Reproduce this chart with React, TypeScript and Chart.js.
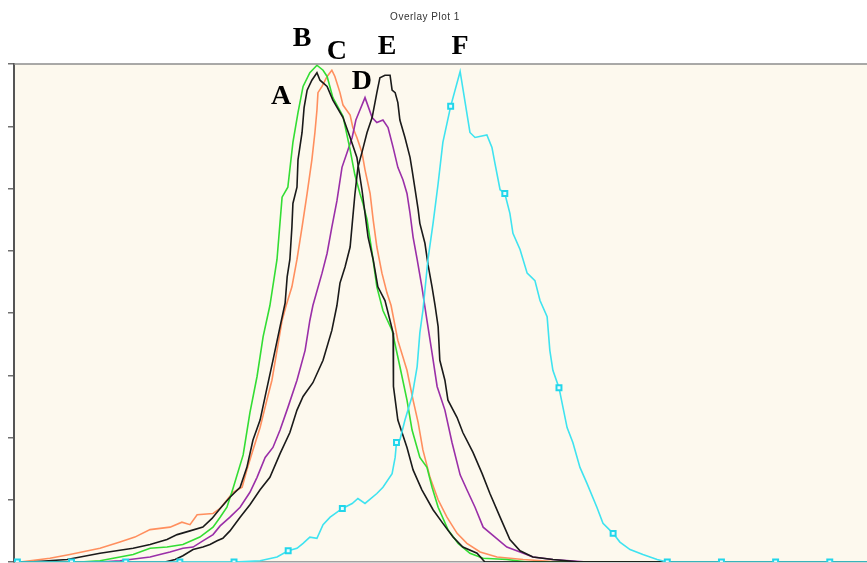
import React, { useEffect, useRef } from "react";
import { Chart, registerables } from "chart.js";

Chart.register(...registerables);

// Histogram channels (x) and counts (y)
const A_ch = [0, 4.7, 15.7, 25.4, 35.2, 40.2, 45.2, 48.2, 52.0, 55.8, 58.5, 60.9, 63.8, 66.8, 68.8, 70.6, 72.7, 74.2, 76.5, 78.6, 80.1, 80.7, 81.5, 82.1, 82.4, 83.6, 83.9, 85.1, 85.7, 86.6, 88.0, 89.5, 90.4, 92.5, 94.2, 97.2, 99.3, 101.3, 102.8, 103.7, 104.6, 106.1, 107.5, 109.6, 112.0, 112.1, 113.4, 116.1, 117.9, 120.5, 123.8, 126.7, 129.7, 132.6, 136.8, 139.1, 252];
const A_val = [0, 0, 2, 7, 11, 14, 18, 22, 25, 28, 35, 43, 52, 60, 76, 98, 114, 133, 162, 189, 208, 229, 243, 269, 288, 301, 323, 345, 365, 379, 387, 393, 387, 382, 371, 357, 341, 325, 299, 280, 261, 243, 221, 210, 184, 141, 114, 92, 74, 58, 42, 31, 20, 12, 7, 0, 0];

const B_ch = [0, 19.5, 25.4, 35.2, 40.2, 45.2, 49.9, 54.9, 58.8, 60.9, 62.9, 64.7, 67.7, 69.7, 71.8, 73.6, 75.6, 77.7, 79.2, 80.9, 82.4, 83.9, 85.4, 87.4, 89.5, 91.3, 92.5, 94.2, 97.2, 99.3, 100.7, 102.2, 103.1, 104.3, 105.8, 107.2, 109.0, 111.7, 114.0, 116.1, 117.6, 119.9, 122.0, 123.5, 125.3, 128.2, 131.2, 134.7, 138.6, 145.6, 151.6, 252];
const B_val = [0, 0, 1, 6, 11, 12, 14, 20, 28, 36, 44, 59, 86, 120, 149, 181, 206, 243, 293, 301, 337, 361, 382, 393, 399, 395, 390, 373, 358, 331, 311, 296, 288, 275, 248, 221, 202, 186, 157, 130, 106, 84, 76, 60, 44, 26, 15, 7, 3, 2, 0, 0];

const C_ch = [0, 1.8, 10.6, 16.5, 25.4, 31.3, 35.7, 40.2, 46.1, 49.6, 52.0, 54.1, 58.8, 60.9, 64.7, 67.4, 68.8, 70.6, 72.7, 74.7, 76.2, 77.7, 79.2, 80.4, 82.1, 83.6, 85.1, 86.6, 88.0, 88.9, 89.5, 89.8, 91.0, 92.5, 93.9, 94.8, 96.3, 97.2, 99.3, 100.1, 101.3, 102.8, 103.7, 105.2, 106.1, 107.2, 108.7, 110.2, 111.4, 113.4, 116.1, 117.9, 119.4, 120.8, 122.9, 125.3, 127.9, 130.9, 133.8, 137.7, 142.7, 150.4, 161.3, 252];
const C_val = [0, 0, 3, 6, 11, 16, 20, 26, 28, 32, 30, 38, 39, 43, 56, 60, 74, 90, 108, 130, 146, 170, 194, 206, 221, 243, 269, 296, 323, 345, 363, 377, 382, 390, 395, 390, 377, 367, 359, 349, 341, 329, 315, 296, 275, 253, 232, 216, 206, 178, 154, 130, 112, 90, 68, 50, 36, 23, 15, 8, 4, 2, 0, 0];

const D_ch = [0, 25.4, 31.3, 37.2, 40.2, 43.1, 46.1, 49.9, 52.9, 55.8, 58.8, 60.9, 63.8, 66.8, 69.7, 71.8, 74.2, 76.5, 78.6, 80.9, 83.6, 86.0, 87.4, 88.3, 91.0, 92.5, 93.9, 95.4, 96.9, 98.4, 99.9, 101.0, 102.2, 103.7, 105.8, 107.2, 109.0, 110.5, 112.0, 113.4, 114.9, 116.1, 117.0, 117.9, 119.1, 120.5, 122.0, 123.5, 125.0, 127.3, 129.4, 131.8, 133.8, 136.2, 138.6, 142.1, 145.6, 149.5, 153.3, 159.2, 169.3, 252];
const D_val = [0, 0, 1, 3, 4, 6, 8, 11, 12, 17, 22, 29, 36, 44, 56, 68, 84, 92, 106, 124, 146, 170, 194, 206, 232, 248, 269, 290, 317, 329, 341, 355, 363, 373, 357, 353, 355, 349, 333, 317, 307, 296, 280, 261, 243, 221, 194, 168, 141, 122, 96, 70, 58, 44, 28, 20, 12, 8, 4, 2, 0, 0];

const E_ch = [0, 44.6, 47.6, 49.9, 52.9, 55.8, 57.9, 60.0, 61.7, 63.8, 66.8, 69.7, 72.7, 75.6, 78.6, 81.5, 83.6, 85.4, 88.3, 91.3, 93.9, 95.4, 96.3, 97.8, 99.3, 99.9, 100.7, 101.6, 102.8, 104.3, 105.8, 107.2, 108.1, 109.6, 111.1, 111.7, 112.6, 113.4, 114.0, 115.5, 117.0, 117.6, 118.5, 119.4, 119.9, 121.4, 122.3, 123.5, 124.4, 125.3, 125.8, 127.3, 128.2, 130.9, 132.6, 135.6, 138.3, 140.6, 143.6, 146.5, 149.5, 153.3, 159.2, 167.2, 252];
const E_val = [0, 0, 2, 5, 10, 12, 14, 17, 19, 25, 36, 46, 58, 68, 87, 104, 122, 133, 144, 162, 186, 206, 224, 237, 253, 271, 295, 317, 329, 345, 357, 377, 389, 391, 391, 379, 377, 369, 355, 341, 325, 315, 299, 283, 272, 256, 239, 221, 206, 189, 162, 146, 130, 116, 104, 88, 71, 55, 36, 18, 9, 4, 2, 0, 0];

const F_ch = [0, 1, 17, 33, 49, 65, 72.7, 77.7, 81, 83.6, 85.4, 87.4, 89.5, 91.3, 93.4, 97, 99.9, 101.6, 103.7, 107.2, 109.0, 111.7, 112.6, 113, 114.0, 115.5, 117.6, 119.1, 119.9, 120.8, 122.3, 123.8, 125.3, 126.7, 129, 131.8, 134.7, 136.2, 139.7, 141.2, 142.1, 143.6, 145, 146.5, 147.4, 149.5, 151.6, 153.9, 155.4, 157.5, 158.3, 159.2, 161, 163.4, 165.1, 167.2, 169.3, 172.2, 174.0, 177, 179.0, 182.0, 185.8, 190.0, 193, 209, 225, 241, 252];
const F_val = [0, 0, 0, 0, 0, 0, 1, 4, 9, 11, 15, 20, 19, 30, 36, 43, 47, 51, 47, 55, 60, 71, 84, 96, 98, 114, 133, 157, 184, 202, 243, 272, 304, 337, 366, 394, 345, 341, 343, 333, 320, 299, 296, 280, 264, 251, 232, 226, 210, 197, 170, 154, 140, 108, 96, 76, 63, 44, 31, 23, 16, 10, 6, 2, 0, 0, 0, 0, 0];

const TITLE = "Overlay Plot 1";
const LABEL_TEXT = ["A", "B", "C", "D", "E", "F"];
const LABEL_CH = [78.9, 85.1, 95.4, 102.8, 110.2, 131.8];
const LABEL_VAL = [374, 420, 410, 386, 414, 414];

const X_MIN = 0;
const X_MAX = 252;
const Y_MAX = 400;
const Y_STEP = 50;
const MARKER_EVERY = 16;

const toPts = (xs: number[], ys: number[]) => xs.map((x, i) => ({ x, y: ys[i] }));

export default function App() {
  const ref = useRef<HTMLCanvasElement | null>(null);

  useEffect(() => {
    if (!ref.current) return;

    const decor = {
      id: "decor",
      beforeDraw(chart: any) {
        const { ctx, chartArea } = chart;
        ctx.save();
        ctx.fillStyle = "#ffffff";
        ctx.fillRect(0, 0, chart.width, chart.height);
        ctx.fillStyle = "#fdf9ee";
        ctx.fillRect(chartArea.left, chartArea.top, chartArea.right - chartArea.left, chartArea.bottom - chartArea.top);
        ctx.restore();
      },
      afterDraw(chart: any) {
        const { ctx, chartArea, scales } = chart;
        ctx.save();
        ctx.strokeStyle = "#8c8c8c";
        ctx.lineWidth = 1.5;
        ctx.beginPath();
        ctx.moveTo(chartArea.left, chartArea.top);
        ctx.lineTo(chartArea.right, chartArea.top);
        ctx.stroke();

        ctx.fillStyle = "#333333";
        ctx.font = '10px "Liberation Sans", Arial, sans-serif';
        (ctx as any).letterSpacing = "0.5px";
        ctx.textAlign = "center";
        ctx.textBaseline = "middle";
        ctx.fillText(TITLE, 425, 17);
        (ctx as any).letterSpacing = "0px";

        ctx.fillStyle = "#000000";
        ctx.font = 'bold 28px "Liberation Serif", "Times New Roman", serif';
        LABEL_TEXT.forEach((t, i) => {
          const px = scales.x.getPixelForValue(LABEL_CH[i]);
          const py = scales.y.getPixelForValue(LABEL_VAL[i]);
          ctx.fillText(t, px, py);
        });
        ctx.restore();
      },
    };

    const line = (data: any, color: string, extra: any = {}) => ({
      data,
      borderColor: color,
      backgroundColor: color,
      borderWidth: 1.6,
      pointRadius: 0,
      tension: 0,
      fill: false,
      ...extra,
    });

    const chart = new Chart(ref.current, {
      type: "line",
      data: {
        datasets: [
          line(toPts(F_ch, F_val), "#3fe3f0", {
            pointStyle: "rect",
            pointRadius: (c: any) => {
              const x = F_ch[c.dataIndex];
              return Number.isInteger(x) && (x - 1) % MARKER_EVERY === 0 ? 3.5 : 0;
            },
            pointBorderColor: "#22d6ea",
            pointBackgroundColor: "#e8fbff",
            pointBorderWidth: 2,
          }),
          line(toPts(A_ch, A_val), "#1a1a1a"),
          line(toPts(E_ch, E_val), "#1a1a1a"),
          line(toPts(B_ch, B_val), "#33dd33"),
          line(toPts(D_ch, D_val), "#9a2fa8"),
          line(toPts(C_ch, C_val), "#ff8f5e"),
        ],
      },
      options: {
        animation: false,
        responsive: false,
        events: [],
        layout: { padding: { top: 64, left: 0, right: 0, bottom: 1 } },
        plugins: { legend: { display: false }, tooltip: { enabled: false }, title: { display: false } },
        scales: {
          x: {
            type: "linear",
            min: X_MIN,
            max: X_MAX,
            ticks: { display: false },
            grid: { display: false, drawTicks: false },
            border: { display: true, color: "#a0a0a0", width: 1.5 },
            afterFit: (s: any) => {
              s.height = 0;
            },
          },
          y: {
            min: 0,
            max: Y_MAX,
            ticks: { display: false, stepSize: Y_STEP },
            grid: { display: true, drawOnChartArea: false, drawTicks: true, tickLength: 6, color: "#707070", lineWidth: 1.5 },
            border: { display: true, color: "#555555", width: 2 },
            afterFit: (s: any) => {
              s.width = 14;
            },
          },
        },
      },
      plugins: [decor],
    } as any);

    return () => chart.destroy();
  }, []);

  return (
    <div style={{ position: "fixed", left: 0, top: 0, width: 867, height: 563, background: "#fff" }}>
      <canvas ref={ref} width={867} height={563} style={{ display: "block", width: 867, height: 563 }} />
    </div>
  );
}
